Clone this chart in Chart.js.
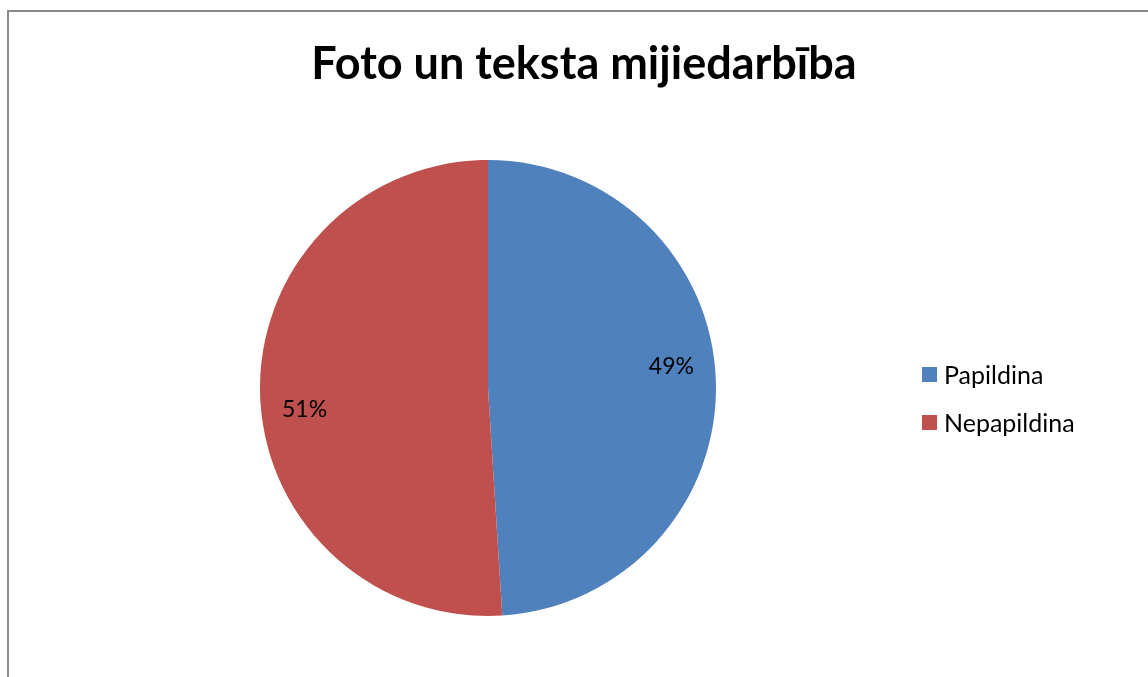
<!DOCTYPE html>
<html>
<head>
<meta charset="utf-8">
<script src="https://cdn.jsdelivr.net/npm/chart.js@4"></script>
<style>
  html, body { margin: 0; padding: 0; background: #fff; overflow: hidden; }
  #frame {
    position: absolute; left: 7px; top: 10px; width: 1200px; height: 700px;
    border-left: 2px solid #8a8a8a; border-top: 2px solid #8a8a8a;
  }
  #wrap { position: absolute; left: 0; top: 0; width: 1148px; height: 677px; }
</style>
</head>
<body>
<div id="frame"></div>
<div id="wrap"><canvas id="pieChart"></canvas></div>
<script>
const chartTitle = 'Foto un teksta mijiedarbība';
const categories = ['Papildina', 'Nepapildina'];
const shares = [49, 51];
const colors = ['#4F81BD', '#C0504D'];

const FONT = 'Lato, Calibri, Carlito, sans-serif';

// title, legend and percent labels drawn in the Excel spots
const excelBits = {
    id: 'excelBits',
    afterDatasetsDraw(chart) {
        const c = chart.ctx;
        c.save();
        c.fillStyle = '#000';
        c.textBaseline = 'middle';

        c.font = 'bold 45px ' + FONT;
        c.textAlign = 'center';
        c.fillText(chartTitle, 584, 64);

        // labels inside each slice
        const meta = chart.getDatasetMeta(0);
        const total = shares.reduce((a, b) => a + b, 0);
        c.font = '23px ' + FONT;
        meta.data.forEach((arc, i) => {
            const p = arc.getProps(['x', 'y', 'startAngle', 'endAngle', 'outerRadius'], true);
            const mid = (p.startAngle + p.endAngle) / 2 - 0.085;
            const r = p.outerRadius * 0.81;
            const pct = Math.round(shares[i] / total * 100) + '%';
            c.fillText(pct, p.x + Math.cos(mid) * r, p.y + Math.sin(mid) * r);
        });

        // legend
        c.textAlign = 'left';
        c.font = '25px ' + FONT;
        categories.forEach((name, i) => {
            const y = 375 + i * 48;
            c.fillStyle = colors[i];
            c.fillRect(922, y - 8, 15, 15);
            c.fillStyle = '#000';
            c.fillText(name, 944, y + 1);
        });
        c.restore();
    }
};

new Chart(document.getElementById('pieChart'), {
    type: 'pie',
    data: {
        labels: categories,
        datasets: [{
            data: shares,
            backgroundColor: colors,
            borderWidth: 0,
            hoverOffset: 0
        }]
    },
    options: {
        responsive: true,
        maintainAspectRatio: false,
        animation: false,
        layout: {
            padding: { left: 260, top: 160, right: 432, bottom: 61 }
        },
        plugins: {
            legend: { display: false },
            title: { display: false },
            tooltip: { enabled: false }
        }
    },
    plugins: [excelBits]
});
</script>
</body>
</html>
